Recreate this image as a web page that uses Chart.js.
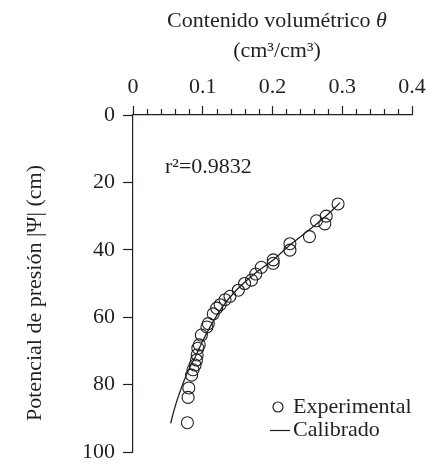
<!DOCTYPE html>
<html>
<head>
<meta charset="utf-8">
<script src="https://cdn.jsdelivr.net/npm/chart.js@4.4.0/dist/chart.umd.min.js"></script>
<style>
  html, body { margin: 0; padding: 0; background: #fff; }
  #wrap { width: 428px; height: 464px; }
</style>
</head>
<body>
<div id="wrap"><canvas id="curva"></canvas></div>
<script>
const thetaExp = [0.294, 0.277, 0.263, 0.275, 0.253, 0.225, 0.225, 0.201, 0.201, 0.184,
                  0.176, 0.170, 0.160, 0.151, 0.139, 0.132, 0.125, 0.120, 0.115, 0.108,
                  0.106, 0.098, 0.095, 0.093, 0.092, 0.091, 0.089, 0.086, 0.084, 0.080,
                  0.079, 0.078];
const psiExp = [26.4, 30.0, 31.4, 32.3, 36.1, 38.2, 40.1, 43.0, 44.0, 45.2,
                47.2, 49.0, 50.0, 52.0, 53.8, 54.8, 56.3, 57.3, 59.0, 61.9,
                62.9, 65.3, 68.2, 69.2, 71.2, 72.7, 74.2, 75.6, 77.2, 81.0,
                83.8, 91.3];

// Curva calibrada
const thetaCal = [0.054, 0.059, 0.065, 0.072, 0.080, 0.090, 0.100, 0.113, 0.128, 0.148,
                  0.173, 0.201, 0.225, 0.253, 0.275, 0.297];
const psiCal = [91.5, 87.5, 83.5, 79.5, 75.5, 71.5, 67.0, 62.0, 57.0, 52.0,
                47.3, 43.0, 38.6, 34.0, 30.3, 26.0];

const xTicks = [0, 0.1, 0.2, 0.3, 0.4];
const xMinorTicks = [0.02, 0.04, 0.06, 0.08, 0.12, 0.14, 0.16, 0.18, 0.22, 0.24, 0.26, 0.28, 0.32, 0.34, 0.36, 0.38];
const yTicks = [0, 20, 40, 60, 80, 100];

const ink = '#231f20';
const serif = '"Liberation Serif", "Times New Roman", serif';
const fontSize = 22;

// Plugin: ticks menores, títulos, r² y leyenda
const extras = {
    id: 'extras',
    afterDraw(chart) {
        const ctx = chart.ctx;
        const x = chart.scales.x;
        const top = chart.chartArea.top;
        ctx.save();
        ctx.strokeStyle = ink;
        ctx.lineWidth = 1.2;
        xMinorTicks.forEach(v => {
            const px = Math.round(x.getPixelForValue(v)) + 0.5;
            ctx.beginPath();
            ctx.moveTo(px, top);
            ctx.lineTo(px, top - 6);
            ctx.stroke();
        });

        ctx.fillStyle = ink;
        ctx.textBaseline = 'middle';

        // Título eje X
        ctx.font = fontSize + 'px ' + serif;
        const t1 = 'Contenido volumétrico ';
        const w1 = ctx.measureText(t1).width;
        ctx.font = 'italic ' + fontSize + 'px ' + serif;
        const w2 = ctx.measureText('θ').width;
        let sx = 277 - (w1 + w2) / 2;
        ctx.font = fontSize + 'px ' + serif;
        ctx.textAlign = 'left';
        ctx.fillText(t1, sx, 21);
        ctx.font = 'italic ' + fontSize + 'px ' + serif;
        ctx.fillText('θ', sx + w1, 21);
        ctx.font = fontSize + 'px ' + serif;
        ctx.textAlign = 'center';
        ctx.fillText('(cm³/cm³)', 277, 51);

        // Título eje Y
        ctx.save();
        ctx.translate(35, 293);
        ctx.rotate(-Math.PI / 2);
        ctx.fillText('Potencial de presión |Ψ| (cm)', 0, 0);
        ctx.restore();

        // r²
        ctx.textAlign = 'left';
        ctx.fillText('r²=0.9832', 165, 167);

        // Leyenda
        ctx.beginPath();
        ctx.arc(278, 407, 5, 0, Math.PI * 2);
        ctx.lineWidth = 1.2;
        ctx.stroke();
        ctx.fillText('Experimental', 293, 407);
        ctx.beginPath();
        ctx.moveTo(270, 430.5);
        ctx.lineTo(290, 430.5);
        ctx.stroke();
        ctx.fillText('Calibrado', 293, 430);
        ctx.restore();
    }
};

const ctx = document.getElementById('curva').getContext('2d');
new Chart(ctx, {
    type: 'scatter',
    data: {
        datasets: [
            {
                label: 'Experimental',
                data: thetaExp.map((t, i) => ({ x: t, y: psiExp[i] })),
                pointStyle: 'circle',
                pointRadius: 6,
                pointBorderWidth: 1.1,
                pointBorderColor: ink,
                pointBackgroundColor: 'rgba(0,0,0,0)'
            },
            {
                label: 'Calibrado',
                data: thetaCal.map((t, i) => ({ x: t, y: psiCal[i] })),
                showLine: true,
                pointRadius: 0,
                borderColor: ink,
                borderWidth: 1.3,
                tension: 0.4
            }
        ]
    },
    options: {
        responsive: true,
        maintainAspectRatio: false,
        animation: false,
        layout: { padding: { top: 0, left: 0, right: 16, bottom: 12 } },
        plugins: {
            legend: { display: false },
            tooltip: { enabled: false }
        },
        scales: {
            x: {
                type: 'linear',
                position: 'top',
                min: 0,
                max: 0.4,
                afterBuildTicks: s => { s.ticks = xTicks.map(v => ({ value: v })); },
                afterFit: s => { s.height = 115; s.paddingLeft = 0; s.paddingRight = 0; },
                ticks: {
                    color: ink,
                    padding: 6,
                    font: { family: serif, size: fontSize },
                    callback: v => String(v)
                },
                grid: { drawOnChartArea: false, tickLength: 9, tickColor: ink, tickWidth: 1.2 },
                border: { color: ink, width: 1.2 }
            },
            y: {
                type: 'linear',
                position: 'left',
                reverse: true,
                min: 0,
                max: 100,
                afterBuildTicks: s => { s.ticks = yTicks.map(v => ({ value: v })); },
                afterFit: s => { s.width = 133; s.paddingTop = 0; s.paddingBottom = 0; },
                ticks: {
                    color: ink,
                    padding: 8,
                    font: { family: serif, size: fontSize },
                    callback: v => String(v)
                },
                grid: { drawOnChartArea: false, tickLength: 10, tickColor: ink, tickWidth: 1.2 },
                border: { color: ink, width: 1.2 }
            }
        }
    },
    plugins: [extras]
});
</script>
</body>
</html>
